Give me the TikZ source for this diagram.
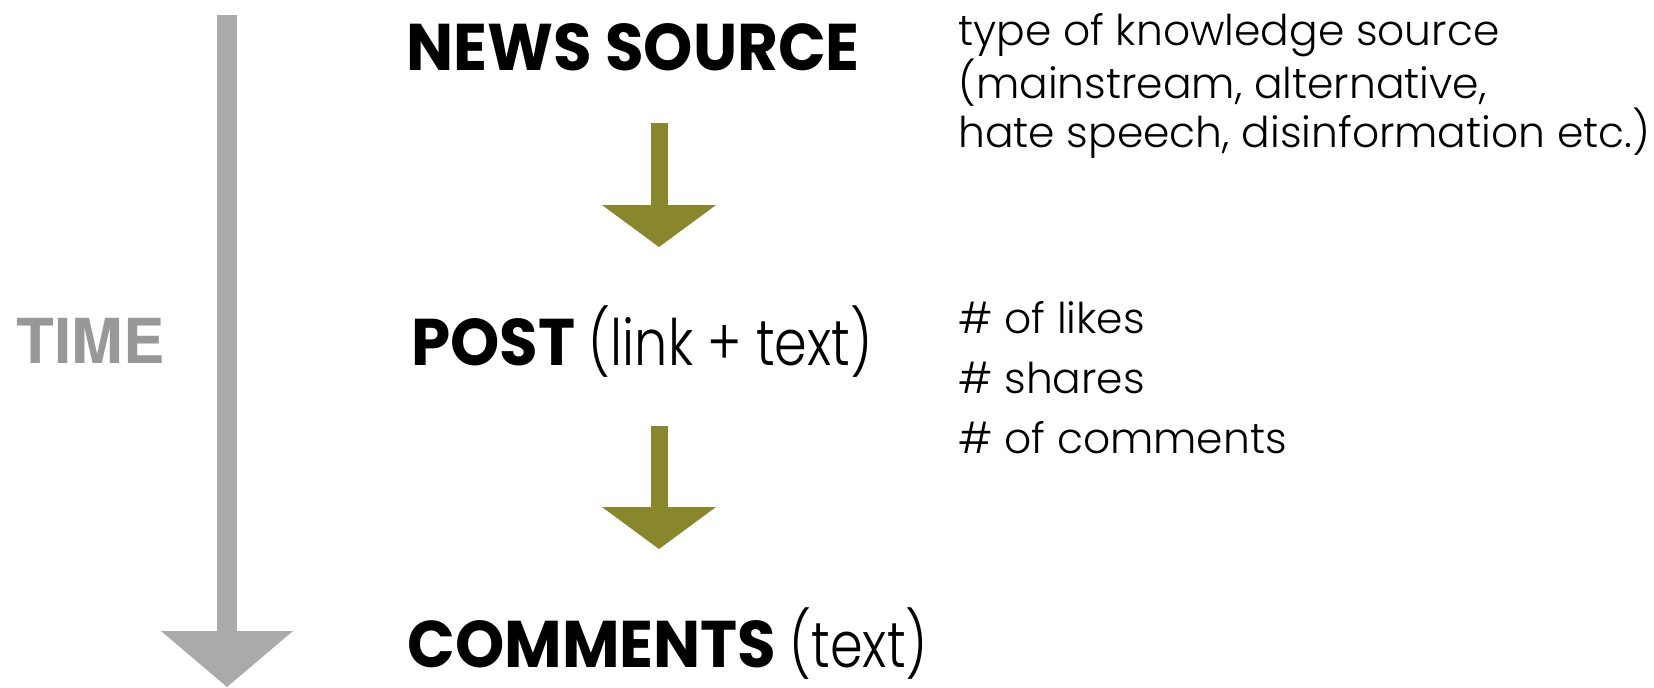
\documentclass[tikz,border=0pt]{standalone}
\usepackage{fontspec}
\setmainfont{Poppins}[BoldFeatures={FakeStretch=0.95}]
\newfontfamily\lightfont{Poppins}[UprightFont=* Light]
\newfontfamily\labellight{Poppins}[UprightFont=* Light,FakeStretch=0.82]
\newfontfamily\timefont{TeX Gyre Heros}
\usetikzlibrary{arrows.meta,positioning}
\definecolor{olivegreen}{RGB}{137,135,44}
\definecolor{arrowgray}{RGB}{170,170,170}
\definecolor{timegray}{RGB}{152,152,152}
\newcommand\aside[1]{{\labellight\mdseries\fontsize{32}{36}\selectfont #1}}

\begin{document}
\begin{tikzpicture}[x=0.5pt,y=-0.5pt]
		\tikzset{
			label/.style={inner sep=0pt,anchor=base west,font=\fontsize{33}{36}\selectfont},
			info/.style={inner sep=0pt,anchor=north west,align=left},
			timearrow/.style={draw=arrowgray,line width=10pt,
				-{Triangle[length=28pt,width=66pt,line width=0pt]}},
			flowarrow/.style={draw=olivegreen,line width=8.5pt,
				-{Triangle[length=21pt,width=57pt,line width=0pt]}}
		}
		\useasboundingbox (0,0) rectangle (1654,687);
		\node(news)[label] at (406,70) {\bfseries NEWS SOURCE};
		\node(post)[label] at (411,365) {\bfseries POST \aside{(link + text)}};
		\node(comments)[label] at (407,667) {\bfseries COMMENTS \aside{(text)}};
		\node(time)[inner sep=0pt,anchor=base west,text=timegray,
			font=\timefont\bfseries\fontsize{31}{34}\selectfont] at (16,363) {TIME};
		\node(srcinfo)[info,font=\lightfont\fontsize{21.2}{24.3}\selectfont] at (958,13)
			{type of knowledge source\\(mainstream, alternative,\\hate speech, disinformation etc.)};
		\node(postinfo)[info,font=\lightfont\fontsize{21.2}{30}\selectfont] at (958,301)
			{\# of likes\\\# shares\\\# of comments};
		% arrows
		\coordinate (ttop) at (227,15);
		\coordinate (tend) at (227,687);
		\coordinate (a1) at (659,123);
		\coordinate (b1) at (659,247);
		\coordinate (a2) at (659,426);
		\coordinate (b2) at (659,549);
		\draw[timearrow] (ttop) -- (tend);
		\draw[flowarrow] (a1) -- (b1);
		\draw[flowarrow] (a2) -- (b2);
\end{tikzpicture}
\end{document}
